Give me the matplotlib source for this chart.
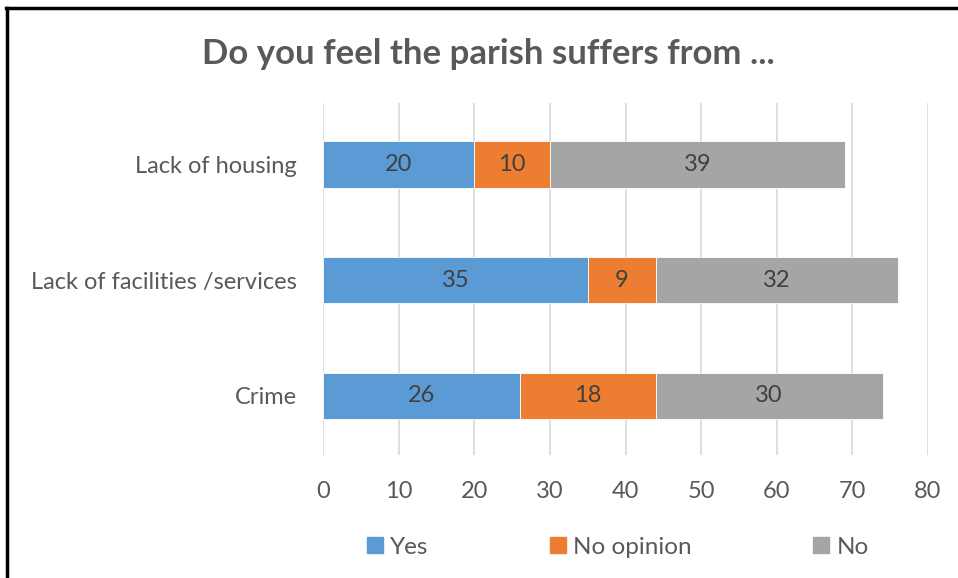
import matplotlib.pyplot as plt
from matplotlib.lines import Line2D

plt.rcParams['font.family'] = ['Lato', 'DejaVu Sans']

# survey responses, bottom to top
categories = ['Crime', 'Lack of facilities /services', 'Lack of housing']
yes = [26, 35, 20]
no_opinion = [18, 9, 10]
no = [30, 32, 39]
series_names = ['Yes', 'No opinion', 'No']
colors = ['#5B9BD5', '#ED7D31', '#A5A5A5']
xticks = [0, 10, 20, 30, 40, 50, 60, 70, 80]

fig = plt.figure(figsize=(9.58, 5.78), dpi=100)
ax = fig.add_axes([323 / 958, 1 - 455 / 578, 605 / 958, 352 / 578])

ypos = list(range(len(categories)))
left = [0] * len(categories)
for vals, name, c in zip([yes, no_opinion, no], series_names, colors):
    bars = ax.barh(ypos, vals, left=left, height=0.4, color=c, label=name,
                   edgecolor='white', linewidth=0.6, zorder=3)
    for b, v in zip(bars, vals):
        ax.text(b.get_x() + b.get_width() / 2, b.get_y() + b.get_height() / 2,
                str(v), ha='center', va='center', fontsize=17, color='#404040', zorder=4)
    left = [l + v for l, v in zip(left, vals)]

ax.set_xlim(0, 80)
ax.set_ylim(-0.51, 2.53)
ax.set_xticks(xticks)
ax.set_yticks(ypos)
ax.set_yticklabels(categories)
ax.grid(axis='x', color='#D9D9D9', linewidth=1.2, zorder=0)
ax.tick_params(axis='both', length=0, labelsize=17, labelcolor='#595959')
ax.tick_params(axis='x', pad=19)
ax.tick_params(axis='y', pad=19)
for s in ax.spines.values():
    s.set_visible(False)

fig.text(488 / 958, 1 - 54 / 578, 'Do you feel the parish suffers from ...',
         ha='center', va='center', fontsize=25, fontweight='bold', color='#595959')

handles = [plt.Rectangle((0, 0), 1, 1, color=c) for c in colors]
fig.legend(handles, series_names, loc='center', bbox_to_anchor=(618 / 958, 1 - 547 / 578),
           ncol=3, frameon=False, fontsize=17.5, labelcolor='#595959',
           handlelength=0.65, handleheight=0.65, handletextpad=0.3, columnspacing=5.0)

# frame lines on the top and left edges
fig.add_artist(Line2D([6 / 958, 1], [1 - 8 / 578, 1 - 8 / 578], color='black', linewidth=2.5))
fig.add_artist(Line2D([7 / 958, 7 / 958], [0, 1 - 8 / 578], color='black', linewidth=2.5))

fig.savefig('out.png', dpi=100, facecolor='white')
